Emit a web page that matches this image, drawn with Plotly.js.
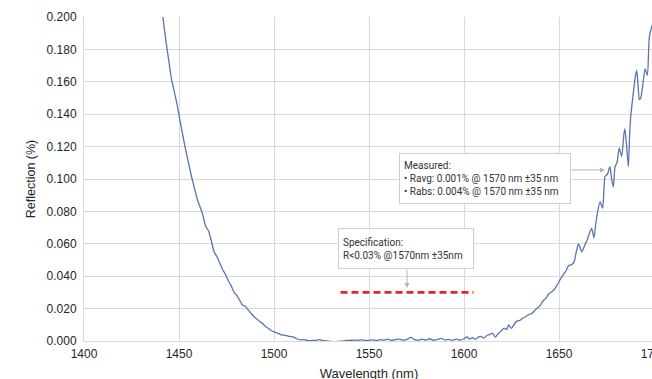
<!DOCTYPE html>
<html>
<head>
<meta charset="utf-8">
<script src="https://cdn.plot.ly/plotly-3.0.1.min.js"></script>
<style>
html,body{margin:0;padding:0;background:#fff;overflow:hidden;width:652px;height:379px;}
#chart{width:684px;height:392px;}
</style>
</head>
<body>
<div id="chart"></div>
<script>
// Wavelength (nm)
const wavelength = [
 1441.5,1443,1444.5,1446,1447.5,1449,1450.5,1452,1453.5,1455,1456.5,1458,1459.5,1461,1462.5,1464,1465.5,1467,1468.5,1470,
 1471.5,1473,1474.5,1476,1477.5,1479,1480.5,1482,1483.5,1485,1486.5,1488,1489.5,1491,1492.5,1494,1495.5,1497,1498.5,1500,
 1502,1504,1506,1508,1510,1512,1514,1516,1518,1520,1522,1524,1526,1528,1530,1532,1534,1536,1538,1540,
 1542,1544,1546,1548,1550,1552,1554,1556,1558,1560,1562,1564,1566,1568,1570,1572,1574,1576,1578,1580,
 1582,1584,1586,1588,1590,1592,1594,1596,1598,1600,1601.5,1603,1604.5,1606,1607.5,1609,1610.5,1612,1613.5,1615,
 1616.5,1618,1619.5,1621,1622.5,1623.5,1625,1626.5,1628,1629.5,1631,1632.5,1634,1635.5,1637,1638.5,1640,1641.5,1643,1644.5,
 1646,1647.5,1649,1650.5,1652,1653.5,1655,1656.5,1658,1659,1660.2,1661,1662,1663.5,1665,1666.5,1667.2,1668.4,1669.3,1670.2,
 1671.6,1673,1674.2,1675.5,1676.8,1677.7,1678.6,1679.5,1680.5,1681.7,1683,1684.2,1684.7,1685.6,1686.5,1687.2,1687.7,1688.8,1690,1690.9,
 1691.6,1692.3,1693,1694,1695.3,1696.5,1697.5,1698.8,1700
];
// Reflection (%)
const reflection = [
 0.200,0.186,0.174,0.162,0.154,0.146,0.136,0.127,0.118,0.110,0.102,0.095,0.088,0.083,0.078,0.071,0.068,0.062,0.055,0.052,
 0.048,0.044,0.041,0.037,0.034,0.030,0.028,0.025,0.022,0.0215,0.019,0.017,0.015,0.0135,0.012,0.0108,0.009,0.0078,0.0065,0.0056,
 0.0048,0.0037,0.0035,0.0028,0.0026,0.0014,0.0007,0.0009,0.0002,0.0003,0.0004,0.0008,0.0002,0.0,-0.0003,-0.0004,-0.0002,-0.0001,0.0003,0.0004,
 0.0006,0.0004,0.0007,0.0003,0.0005,0.0007,0.0003,0.0008,0.0005,0.0011,0.0004,0.0009,0.0012,0.0006,0.0010,0.0022,0.0008,0.0005,0.0012,0.0006,
 0.0014,0.0004,0.0010,0.0016,0.0006,0.0010,0.0005,0.0012,0.0006,0.0014,0.0026,0.0012,0.0020,0.0010,0.0024,0.0028,0.0018,0.0034,0.0040,0.0048,
 0.0024,0.0046,0.0062,0.0078,0.0072,0.0099,0.0078,0.0105,0.0124,0.0128,0.0142,0.0150,0.0162,0.0168,0.0185,0.0202,0.0218,0.0246,0.0262,0.0290,
 0.0302,0.0318,0.0345,0.0377,0.0405,0.0428,0.0465,0.0470,0.0490,0.0545,0.0600,0.0580,0.0550,0.0590,0.0630,0.0680,0.0696,0.0636,0.0720,0.0788,
 0.0860,0.0820,0.1014,0.1030,0.1076,0.1000,0.0950,0.1076,0.1100,0.1190,0.1140,0.1280,0.1310,0.1200,0.1076,0.1280,0.1380,0.1500,0.1620,0.1670,
 0.1580,0.1490,0.1500,0.1570,0.1680,0.1640,0.1870,0.1940,0.1970
];
// Specification band
const specWavelength = [1535, 1605];
const specReflection = [0.03, 0.03];

const xTicks = [1400,1450,1500,1550,1600,1650,1700];
const yTicks = [0,0.02,0.04,0.06,0.08,0.1,0.12,0.14,0.16,0.18,0.2];

const specText = 'Specification:<br>R<0.03% @1570nm ±35nm';
const measuredText = 'Measured:<br>• Ravg: 0.001% @ 1570 nm ±35 nm<br>• Rabs: 0.004% @ 1570 nm ±35 nm';

const traces = [
  {x: wavelength, y: reflection, type: 'scatter', mode: 'lines',
   line: {color: '#5a75ad', width: 1.3, shape: 'spline', smoothing: 0.6}, hoverinfo: 'skip'},
  {x: specWavelength, y: specReflection, type: 'scatter', mode: 'lines',
   line: {color: '#e3242b', width: 2.6, dash: '7px,4px'}, hoverinfo: 'skip'}
];

const axisFont = {family: '"Liberation Sans", Arial, sans-serif', size: 12, color: '#262626'};
const noteFont = {family: 'Roboto, "Liberation Sans", sans-serif', size: 10, color: '#333'};

const layout = {
  width: 684, height: 392,
  margin: {l: 84, r: 30, t: 17, b: 51},
  paper_bgcolor: '#fff', plot_bgcolor: '#fff',
  showlegend: false,
  xaxis: {
    range: [1400, 1700], tickvals: xTicks, ticktext: xTicks.map(String),
    showgrid: true, gridcolor: '#d9d9d9', gridwidth: 1,
    showline: true, linecolor: '#d9d9d9', linewidth: 1,
    zeroline: false, ticks: 'outside', ticklen: 2, tickcolor: 'rgba(0,0,0,0)', tickfont: axisFont,
    title: {text: 'Wavelength (nm)', font: {family: axisFont.family, size: 13, color: '#262626'}, standoff: 8},
    automargin: false
  },
  yaxis: {
    range: [0, 0.2], tickvals: yTicks, ticktext: yTicks.map(v => v.toFixed(3)),
    showgrid: true, gridcolor: '#d9d9d9', gridwidth: 1,
    showline: true, linecolor: '#d9d9d9', linewidth: 1,
    zeroline: false, ticks: 'outside', ticklen: 4, tickcolor: 'rgba(0,0,0,0)', tickfont: axisFont,
    title: {text: 'Reflection (%)', font: {family: axisFont.family, size: 12.5, color: '#262626'}, standoff: 8},
    automargin: false
  },
  annotations: [
    {xref: 'x', yref: 'y', x: 1533.7, y: 0.0698, xanchor: 'left', yanchor: 'top',
     text: specText, showarrow: false, align: 'left', font: noteFont,
     bgcolor: '#fff', bordercolor: '#cfcfcf', borderwidth: 1, borderpad: 4, width: 126, height: 31},
    {xref: 'x', yref: 'y', x: 1570, y: 0.0327, ax: 0, ay: -20, text: '', showarrow: true,
     arrowhead: 2, arrowsize: 1, arrowwidth: 1, arrowcolor: '#b5b5b5'},
    {xref: 'x', yref: 'y', x: 1565.8, y: 0.116, xanchor: 'left', yanchor: 'top',
     text: measuredText, showarrow: false, align: 'left', font: noteFont,
     bgcolor: '#fff', bordercolor: '#cfcfcf', borderwidth: 1, borderpad: 4, width: 162, height: 41},
    {xref: 'x', yref: 'y', x: 1674.2, y: 0.1056, ax: -35, ay: 0, text: '', showarrow: true,
     arrowhead: 2, arrowsize: 1, arrowwidth: 1, arrowcolor: '#b5b5b5'}
  ]
};

Plotly.newPlot('chart', traces, layout, {displayModeBar: false, staticPlot: true});
</script>
</body>
</html>
